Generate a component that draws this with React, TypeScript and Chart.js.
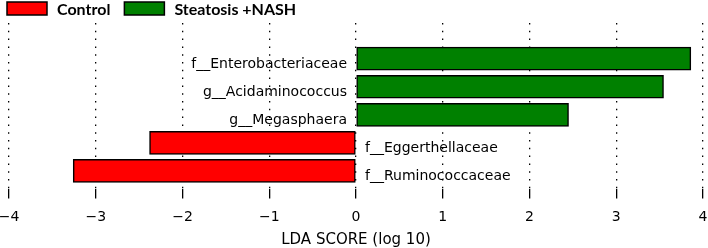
import React, { useEffect, useRef } from "react";
import { Chart, registerables } from "chart.js";

Chart.register(...registerables);

const taxa = [
  "f__Enterobacteriaceae",
  "g__Acidaminococcus",
  "g__Megasphaera",
  "f__Eggerthellaceae",
  "f__Ruminococcaceae",
];
const ldaScores = [3.86, 3.545, 2.45, -2.38, -3.26];
const groups = ["Control", "Steatosis +NASH"];
const groupColors = ["#ff0000", "#008000"];
const xTicks = [-4, -3, -2, -1, 0, 1, 2, 3, 4];
const axisTitle = "LDA SCORE (log 10)";

const W = 708;
const H = 248;

export default function App() {
  const ref = useRef<HTMLCanvasElement | null>(null);

  useEffect(() => {
    const canvas = ref.current;
    if (!canvas) return;

    const barLabels = {
      id: "barLabels",
      afterDatasetsDraw(chart: any) {
        const ctx = chart.ctx;
        const meta = chart.getDatasetMeta(0);
        const x0 = chart.scales.x.getPixelForValue(0);
        ctx.save();
        ctx.font = "14px 'DejaVu Sans'";
        ctx.fillStyle = "#000";
        ctx.textBaseline = "alphabetic";
        meta.data.forEach((bar: any, i: number) => {
          const v = ldaScores[i];
          if (v >= 0) {
            ctx.textAlign = "right";
            ctx.fillText(taxa[i], x0 - 9, bar.y + 9);
          } else {
            ctx.textAlign = "left";
            ctx.fillText(taxa[i], x0 + 9, bar.y + 9);
          }
        });
        ctx.restore();
      },
    };

    const legendPlugin = {
      id: "customLegend",
      afterDraw(chart: any) {
        const ctx = chart.ctx;
        ctx.save();
        ctx.font = "bold 16px Lato";
        ctx.textBaseline = "alphabetic";
        ctx.textAlign = "left";
        let x = 7;
        groups.forEach((g, i) => {
          ctx.fillStyle = groupColors[i];
          ctx.fillRect(x, 2, 40, 13);
          ctx.strokeStyle = "#000";
          ctx.lineWidth = 1.5;
          ctx.strokeRect(x, 2, 40, 13);
          ctx.fillStyle = "#000";
          ctx.fillText(g, x + 50, 15);
          x += 50 + ctx.measureText(g).width + 14;
        });
        ctx.restore();
      },
    };

    const chart = new Chart(canvas, {
      type: "bar",
      data: {
        datasets: [
          {
            data: ldaScores.map((v, i) => ({ x: v, y: i })),
            backgroundColor: ldaScores.map((v) => (v < 0 ? groupColors[0] : groupColors[1])),
            borderColor: "#000",
            borderWidth: 1.5,
            borderSkipped: false,
            barThickness: 23,
          },
        ],
      },
      options: {
        indexAxis: "y",
        responsive: false,
        animation: false,
        devicePixelRatio: 1,
        layout: { padding: { top: 23, left: 0, right: 0, bottom: 0 } },
        plugins: {
          legend: { display: false },
          tooltip: { enabled: false },
        },
        scales: {
          x: {
            type: "linear",
            position: "bottom",
            min: -4,
            max: 4,
            z: 1,
            afterBuildTicks: (scale: any) => {
              scale.ticks = xTicks.map((v) => ({ value: v }));
            },
            afterFit: (scale: any) => {
              scale.paddingLeft = 9;
              scale.paddingRight = 5;
            },
            ticks: {
              autoSkip: false,
              maxRotation: 0,
              padding: 10.6,
              color: "#000",
              font: { family: "'DejaVu Sans'", size: 14 },
              callback: (v: any) => (Number(v) < 0 ? "\u2212" + Math.abs(Number(v)) : String(v)),
            },
            grid: {
              color: "#000",
              lineWidth: 1.3,
              drawTicks: true,
              tickLength: 10,
              tickColor: "#000",
              tickWidth: 1.3,
              tickBorderDash: [],
            },
            border: { display: false, dash: [1.5, 6.3] },
            title: {
              display: true,
              text: axisTitle,
              color: "#000",
              font: { family: "'DejaVu Sans'", size: 15, lineHeight: 1 },
              padding: { top: -3.5, bottom: 0 },
            },
          },
          y: {
            type: "linear",
            min: -1.27,
            max: 4.625,
            reverse: true,
            offset: false,
            display: false,
          },
        },
      },
      plugins: [barLabels, legendPlugin],
    } as any);

    return () => chart.destroy();
  }, []);

  return (
    <div style={{ position: "fixed", left: 0, top: 0, width: W, height: H, background: "#fff" }}>
      <canvas ref={ref} width={W} height={H} style={{ width: W, height: H, display: "block" }} />
    </div>
  );
}
